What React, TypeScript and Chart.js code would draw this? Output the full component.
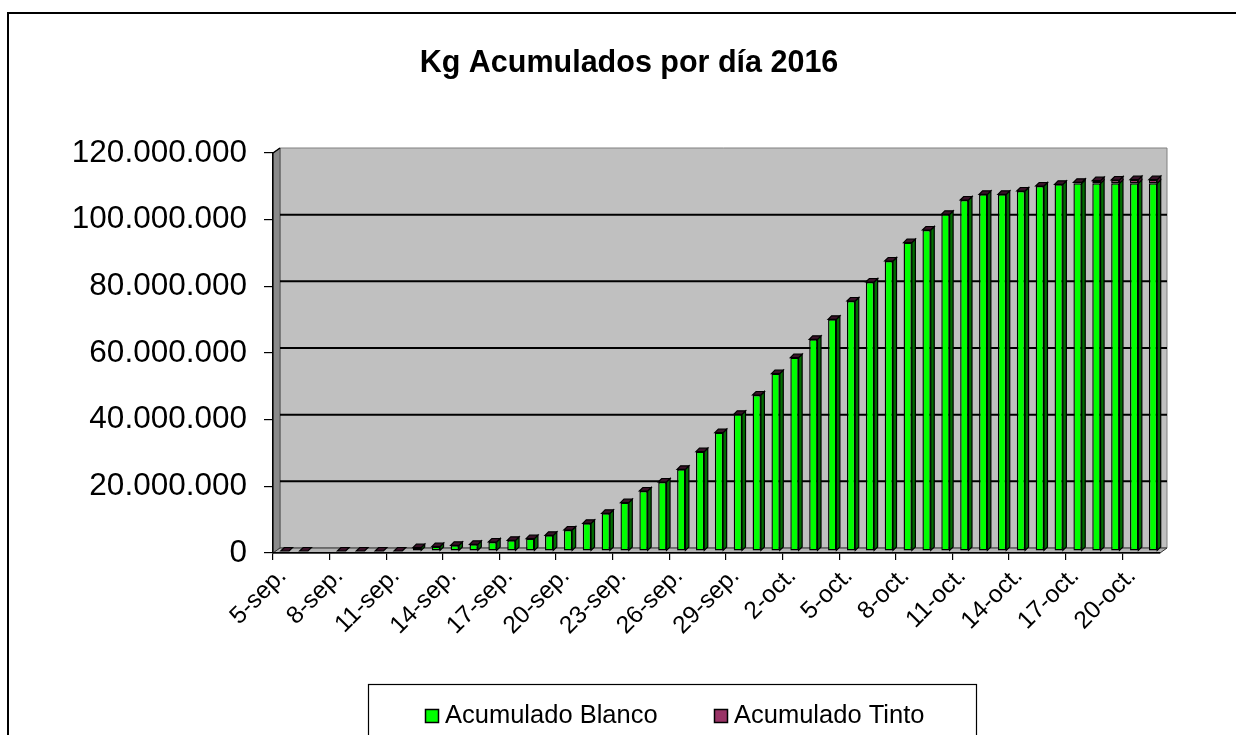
import React, { useEffect, useRef } from 'react';
import { Chart, registerables } from 'chart.js';

Chart.register(...registerables);

const chartTitle = 'Kg Acumulados por día 2016';
const seriesNames = ['Acumulado Blanco', 'Acumulado Tinto'];

const categories = [
  '5-sep.', '6-sep.', '7-sep.', '8-sep.', '9-sep.', '10-sep.', '11-sep.', '12-sep.', '13-sep.', '14-sep.',
  '15-sep.', '16-sep.', '17-sep.', '18-sep.', '19-sep.', '20-sep.', '21-sep.', '22-sep.', '23-sep.', '24-sep.',
  '25-sep.', '26-sep.', '27-sep.', '28-sep.', '29-sep.', '30-sep.', '1-oct.', '2-oct.', '3-oct.', '4-oct.',
  '5-oct.', '6-oct.', '7-oct.', '8-oct.', '9-oct.', '10-oct.', '11-oct.', '12-oct.', '13-oct.', '14-oct.',
  '15-oct.', '16-oct.', '17-oct.', '18-oct.', '19-oct.', '20-oct.', '21-oct.',
];

const blanco: (number | null)[] = [
  0, 0, null, 0, 0, 0, 0, 1000000, 1300000, 1700000,
  2000000, 2700000, 3200000, 3700000, 4700000, 6300000, 8300000, 11300000, 14500000, 18000000,
  20700000, 24500000, 29800000, 35500000, 41000000, 46800000, 53200000, 58000000, 63500000, 69500000,
  75000000, 80700000, 87000000, 92500000, 96300000, 101000000, 105300000, 107000000, 107000000, 108000000,
  109500000, 110000000, 110300000, 110300000, 110300000, 110300000, 110300000,
];

const tinto: (number | null)[] = [
  0, 0, null, 0, 0, 0, 0, 0, 0, 0,
  0, 0, 0, 0, 0, 0, 0, 0, 0, 0,
  0, 0, 0, 0, 0, 0, 0, 0, 0, 0,
  0, 0, 0, 0, 0, 0, 0, 0, 0, 0,
  0, 0, 300000, 800000, 1000000, 1100000, 1100000,
];

const yTicks = [0, 20000000, 40000000, 60000000, 80000000, 100000000, 120000000];
const labelEvery = 3;

const GREEN = '#00FF00';
const GREEN_SIDE = '#006E00';
const PLUM = '#993366';
const PLUM_SIDE = '#4D1A33';
const TOP_FACE = '#3A1228';
const FONT = '"Liberation Sans", Arial, sans-serif';

const DX = 7; // wall depth offset
const DY = 5;
const BD = 3.5; // bar depth
const BAR_SHIFT_X = 2.5; // bars stand in the middle of the floor depth
const BAR_SHIFT_Y = -2;

function fmt(v: number): string {
  return String(Math.round(v)).replace(/\B(?=(\d{3})+(?!\d))/g, '.');
}

function poly(ctx: CanvasRenderingContext2D, pts: number[][], fill: string, stroke?: string, lw = 1) {
  ctx.beginPath();
  ctx.moveTo(pts[0][0], pts[0][1]);
  for (let i = 1; i < pts.length; i++) ctx.lineTo(pts[i][0], pts[i][1]);
  ctx.closePath();
  ctx.fillStyle = fill;
  ctx.fill();
  if (stroke) {
    ctx.strokeStyle = stroke;
    ctx.lineWidth = lw;
    ctx.stroke();
  }
}

const wallsPlugin = {
  id: 'walls',
  beforeDraw(chart: any) {
    const { ctx, chartArea: a, scales } = chart;
    const y = scales.y;
    ctx.save();
    ctx.fillStyle = '#FFFFFF';
    ctx.fillRect(0, 0, chart.width, chart.height);
    // back wall
    poly(ctx, [[a.left + DX, a.top - DY], [a.right + DX, a.top - DY], [a.right + DX, a.bottom - DY], [a.left + DX, a.bottom - DY]], '#C0C0C0', '#808080', 1);
    // left wall
    poly(ctx, [[a.left, a.top], [a.left + DX, a.top - DY], [a.left + DX, a.bottom - DY], [a.left, a.bottom]], '#8A8A8A', '#555555', 1);
    // floor
    poly(ctx, [[a.left, a.bottom], [a.left + DX, a.bottom - DY], [a.right + DX, a.bottom - DY], [a.right, a.bottom]], '#B4B4B4', '#333333', 1);
    // gridlines on back wall
    ctx.strokeStyle = '#000000';
    ctx.lineWidth = 2;
    yTicks.forEach((v) => {
      if (v === 0 || v === yTicks[yTicks.length - 1]) return;
      const py = y.getPixelForValue(v) - DY;
      ctx.beginPath();
      ctx.moveTo(a.left + DX, py);
      ctx.lineTo(a.right + DX, py);
      ctx.stroke();
    });
    ctx.lineWidth = 1.5;
    ctx.beginPath();
    ctx.moveTo(a.left, a.top);
    ctx.lineTo(a.left + DX, a.top - DY);
    ctx.stroke();
    ctx.restore();
  },
};

const bars3dPlugin = {
  id: 'bars3d',
  beforeDatasetsDraw(chart: any) {
    chart.ctx.save();
    chart.ctx.translate(BAR_SHIFT_X, BAR_SHIFT_Y);
  },
  afterDatasetsDraw(chart: any) {
    const ctx = chart.ctx;
    const m0 = chart.getDatasetMeta(0);
    const m1 = chart.getDatasetMeta(1);
    for (let i = 0; i < categories.length; i++) {
      if (blanco[i] == null) continue;
      const b = m0.data[i].getProps(['x', 'y', 'base', 'width'], true);
      const t = m1.data[i].getProps(['x', 'y', 'base', 'width'], true);
      const left = b.x - b.width / 2;
      const right = b.x + b.width / 2;
      if (b.base - b.y > 0.5) {
        poly(ctx, [[right, b.y], [right + BD, b.y - BD], [right + BD, b.base - BD], [right, b.base]], GREEN_SIDE, '#000000', 1.2);
      }
      if (t.base - t.y > 0.5) {
        poly(ctx, [[right, t.y], [right + BD, t.y - BD], [right + BD, t.base - BD], [right, t.base]], PLUM_SIDE, '#000000', 1.2);
      }
      const topY = Math.min(b.y, t.y);
      poly(ctx, [[left, topY], [left + BD, topY - BD], [right + BD, topY - BD], [right, topY]], TOP_FACE, '#000000', 1.2);
    }
    ctx.restore();
  },
};

const decorPlugin = {
  id: 'decor',
  afterDraw(chart: any) {
    const ctx = chart.ctx;
    const xs = chart.scales.x;
    ctx.save();
    // x category labels, rotated 45 degrees
    ctx.fillStyle = '#000000';
    ctx.font = `24.5px ${FONT}`;
    ctx.textAlign = 'right';
    ctx.textBaseline = 'alphabetic';
    categories.forEach((lab, i) => {
      if (i % labelEvery !== 0) return;
      const px = xs.getPixelForValue(i);
      ctx.save();
      ctx.translate(px + 5, 577);
      ctx.rotate(-Math.PI / 4);
      ctx.fillText(lab, 0, 0);
      ctx.restore();
    });
    // outer border (continues past right/bottom of the page)
    ctx.strokeStyle = '#000000';
    ctx.lineWidth = 2;
    ctx.strokeRect(8, 13, chart.width + 20, chart.height + 20);
    // title
    ctx.font = `bold 30.5px ${FONT}`;
    ctx.textAlign = 'center';
    ctx.fillText(chartTitle, 629, 72);
    // legend box
    ctx.lineWidth = 1.2;
    ctx.fillStyle = '#FFFFFF';
    ctx.fillRect(368, 684, 608, 70);
    ctx.strokeRect(368.5, 684.5, 608, 70);
    ctx.font = `25.5px ${FONT}`;
    ctx.textAlign = 'left';
    const colors = [GREEN, PLUM];
    const lx = [425, 714];
    seriesNames.forEach((name, k) => {
      ctx.fillStyle = colors[k];
      ctx.fillRect(lx[k], 709, 14, 14);
      ctx.lineWidth = 1.5;
      ctx.strokeRect(lx[k] + 0.5, 709.5, 13, 13);
      ctx.fillStyle = '#000000';
      ctx.fillText(name, lx[k] + 20, 723);
    });
    ctx.restore();
  },
};

export default function App() {
  const ref = useRef<HTMLCanvasElement | null>(null);

  useEffect(() => {
    if (!ref.current) return;
    Chart.defaults.font.family = FONT;
    Chart.defaults.color = '#000000';
    const chart = new Chart(ref.current, {
      type: 'bar',
      data: {
        labels: categories,
        datasets: [
          {
            label: seriesNames[0],
            data: blanco,
            backgroundColor: GREEN,
            borderColor: '#000000',
            borderWidth: 1.4,
            borderSkipped: false,
            categoryPercentage: 1,
            barPercentage: 0.44,
          },
          {
            label: seriesNames[1],
            data: tinto,
            backgroundColor: PLUM,
            borderColor: '#000000',
            borderWidth: 1.4,
            borderSkipped: false,
            categoryPercentage: 1,
            barPercentage: 0.44,
          },
        ],
      },
      options: {
        responsive: false,
        animation: false,
        devicePixelRatio: 1,
        layout: { padding: { left: 10, right: 76, top: 153, bottom: 82 } },
        plugins: {
          legend: { display: false },
          title: { display: false },
          tooltip: { enabled: false },
        },
        scales: {
          x: {
            stacked: true,
            offset: true,
            afterFit: (s: any) => { s.height = 100; },
            grid: {
              offset: true,
              drawOnChartArea: false,
              drawTicks: true,
              tickLength: 7,
              color: (c: any) => (c.index % labelEvery === 0 ? '#000000' : 'rgba(0,0,0,0)'),
              lineWidth: 1.2,
            },
            border: { display: true, color: '#000000', width: 1.5 },
            ticks: {
              display: false,
              autoSkip: false,
            },
          },
          y: {
            stacked: true,
            min: yTicks[0],
            max: yTicks[yTicks.length - 1],
            afterFit: (s: any) => { s.width = 263; },
            afterBuildTicks: (s: any) => { s.ticks = yTicks.map((v) => ({ value: v })); },
            grid: {
              drawOnChartArea: false,
              drawTicks: true,
              tickLength: 9,
              color: '#000000',
              lineWidth: 1.2,
            },
            border: { display: true, color: '#000000', width: 1.5 },
            ticks: {
              padding: 17,
              font: { size: 31.5, family: FONT },
              color: '#000000',
              callback: (v: any) => fmt(Number(v)),
            },
          },
        },
      },
      plugins: [wallsPlugin, bars3dPlugin, decorPlugin],
    });
    return () => chart.destroy();
  }, []);

  return (
    <canvas
      ref={ref}
      width={1236}
      height={735}
      style={{ position: 'fixed', left: 0, top: 0, width: 1236, height: 735, display: 'block' }}
    />
  );
}
